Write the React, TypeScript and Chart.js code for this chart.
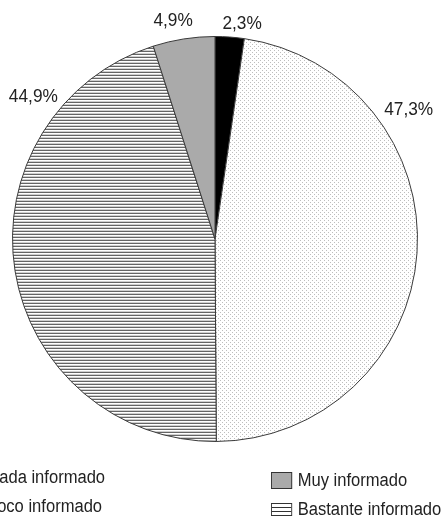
import React, { useEffect, useRef } from "react";
import { Chart, registerables } from "chart.js";

Chart.register(...registerables);

const categories = ["Nada informado", "Poco informado", "Bastante informado", "Muy informado"];
const values = [2.3, 47.3, 44.9, 4.9];
const valueLabels = ["2,3%", "47,3%", "44,9%", "4,9%"];
const legendLeft = ["Nada informado", "Poco informado"];
const legendRight = ["Muy informado", "Bastante informado"];

// label placement (angle in degrees clockwise from top, extra distance beyond radius)
const labelAngles = [7.2, 56.4, -52, -10.9];
const labelOffsets = [14, 30, 28, 19];

const FONT = '"Liberation Sans", Arial, sans-serif';
const SX = 0.92;

function dotPattern(ctx: CanvasRenderingContext2D) {
  const c = document.createElement("canvas");
  c.width = 4;
  c.height = 4;
  const g = c.getContext("2d")!;
  g.fillStyle = "#ffffff";
  g.fillRect(0, 0, 4, 4);
  g.fillStyle = "#bdbdbd";
  g.fillRect(0, 0, 1, 1);
  g.fillRect(2, 2, 1, 1);
  return ctx.createPattern(c, "repeat")!;
}

function linePattern(ctx: CanvasRenderingContext2D) {
  const c = document.createElement("canvas");
  c.width = 4;
  c.height = 3;
  const g = c.getContext("2d")!;
  g.fillStyle = "#ffffff";
  g.fillRect(0, 0, 4, 3);
  g.fillStyle = "#656565";
  g.fillRect(0, 0, 4, 1);
  g.fillStyle = "#cfcfcf";
  g.fillRect(0, 2, 4, 1);
  return ctx.createPattern(c, "repeat")!;
}

const labelPlugin = {
  id: "pieLabels",
  afterDatasetsDraw(chart: any) {
    const { ctx } = chart;
    const meta = chart.getDatasetMeta(0);
    ctx.save();
    ctx.font = `18px ${FONT}`;
    ctx.fillStyle = "#222";
    ctx.textAlign = "center";
    ctx.textBaseline = "middle";
    meta.data.forEach((arc: any, i: number) => {
      const a = (labelAngles[i] * Math.PI) / 180;
      const d = arc.outerRadius + labelOffsets[i];
      const x = arc.x + d * Math.sin(a);
      const y = arc.y - d * Math.cos(a);
      ctx.save();
      ctx.translate(x, y);
      ctx.scale(0.96, 1);
      ctx.fillText(valueLabels[i], 0, 0);
      ctx.restore();
    });
    ctx.restore();
  },
};

const boxBase: React.CSSProperties = {
  display: "inline-block",
  width: 23,
  height: 15,
  boxSizing: "border-box",
  border: "1px solid #333",
  marginRight: 6,
  verticalAlign: "middle",
};

const boxStyles: Record<string, React.CSSProperties> = {
  "Nada informado": { ...boxBase, background: "#000" },
  "Poco informado": {
    ...boxBase,
    backgroundColor: "#fff",
    backgroundImage: "radial-gradient(#bbb 0.7px, transparent 0.8px)",
    backgroundSize: "3px 3px",
  },
  "Muy informado": { ...boxBase, height: 17, background: "#aaaaaa" },
  "Bastante informado": {
    ...boxBase,
    height: 13,
    background:
      "linear-gradient(#fff 0, #fff 3px, #333 3px, #333 4px, #fff 4px, #fff 7px, #333 7px, #333 8px, #fff 8px)",
  },
};

function LegendItem({
  label,
  style,
  origin,
}: {
  label: string;
  style: React.CSSProperties;
  origin: string;
}) {
  return (
    <div
      style={{
        position: "absolute",
        whiteSpace: "nowrap",
        font: `18px ${FONT}`,
        color: "#222",
        lineHeight: "20px",
        transform: `scaleX(${SX})`,
        transformOrigin: origin,
        ...style,
      }}
    >
      <span style={boxStyles[label]} />
      <span style={{ verticalAlign: "middle" }}>{label}</span>
    </div>
  );
}

export default function App() {
  const ref = useRef<HTMLCanvasElement>(null);

  useEffect(() => {
    const canvas = ref.current!;
    const ctx = canvas.getContext("2d")!;
    const fills = ["#000000", dotPattern(ctx), linePattern(ctx), "#aaaaaa"];
    const chart = new Chart(canvas, {
      type: "pie",
      data: {
        labels: categories,
        datasets: [
          {
            data: values,
            backgroundColor: fills as any,
            borderColor: "#3a3a3a",
            borderWidth: 1,
          },
        ],
      },
      options: {
        animation: false,
        responsive: false,
        maintainAspectRatio: false,
        events: [],
        layout: { padding: { left: 12, right: 27, top: 36, bottom: 76 } },
        plugins: {
          legend: { display: false },
          tooltip: { enabled: false },
        },
      },
      plugins: [labelPlugin],
    });
    return () => chart.destroy();
  }, []);

  return (
    <div
      style={{
        position: "fixed",
        left: 0,
        top: 0,
        width: 445,
        height: 518,
        overflow: "hidden",
        background: "#fff",
      }}
    >
      <canvas ref={ref} width={445} height={518} style={{ position: "absolute", left: 0, top: 0 }} />
      <LegendItem label={legendLeft[0]} origin="right center" style={{ right: 340, top: 466 }} />
      <LegendItem label={legendLeft[1]} origin="right center" style={{ right: 343, top: 495 }} />
      <LegendItem label={legendRight[0]} origin="left center" style={{ left: 271, top: 469 }} />
      <LegendItem label={legendRight[1]} origin="left center" style={{ left: 271, top: 498 }} />
    </div>
  );
}
